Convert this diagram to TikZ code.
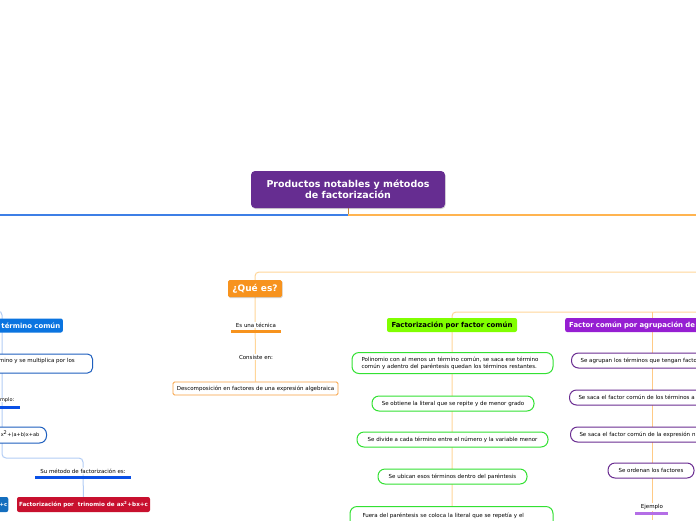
\documentclass[tikz,border=0pt]{standalone}
\usepackage{fontspec}
\setmainfont{DejaVu Sans}
\usetikzlibrary{shadows,backgrounds}
\definecolor{rootpurple}{RGB}{102,45,145}
\definecolor{mainblue}{RGB}{61,127,230}
\definecolor{mainorange}{RGB}{255,180,80}
\definecolor{lorange}{RGB}{255,214,153}
\definecolor{qorange}{RGB}{247,147,30}
\definecolor{borange}{RGB}{247,160,64}
\definecolor{ghead}{RGB}{128,255,0}
\definecolor{gborder}{RGB}{51,225,51}
\definecolor{phead}{RGB}{150,30,210}
\definecolor{pborder}{RGB}{106,45,145}
\definecolor{pline}{RGB}{180,110,230}
\definecolor{bhead}{RGB}{10,116,224}
\definecolor{bborder}{RGB}{30,95,190}
\definecolor{bline}{RGB}{10,80,230}
\definecolor{lblue}{RGB}{179,205,245}
\definecolor{redbox}{RGB}{200,16,46}
\definecolor{dblue}{RGB}{20,110,190}
\definecolor{stemc}{RGB}{200,138,58}
\newcommand{\tinyf}{\fontsize{5.5}{7}\selectfont}
\newcommand{\smallerf}{\fontsize{5}{6}\selectfont}
\newcommand{\headf}{\fontsize{6.9}{8}\selectfont\bfseries}
\tikzset{
  x=1pt, y=-1pt,
  rootbox/.style={fill=rootpurple, rounded corners=4pt, text=white, font=\fontsize{9.5}{11}\selectfont\bfseries, align=center, inner sep=0pt, minimum width=194pt, minimum height=37pt, drop shadow={shadow xshift=0.6pt, shadow yshift=-1pt, opacity=0.35}},
  qbox/.style={fill=qorange, rounded corners=1.5pt, text=white, font=\fontsize{9}{10}\selectfont\bfseries, inner sep=0pt, minimum width=54pt, minimum height=17pt, drop shadow={shadow xshift=0.6pt, shadow yshift=-1pt, opacity=0.35}},
  headbox/.style={rounded corners=2pt, font=\headf, inner sep=0pt, minimum height=14pt},
  plain/.style={font=\tinyf, inner sep=1pt, fill=white},
  obox/.style={draw=borange, line width=0.8pt, fill=white, rounded corners=1.5pt, font=\tinyf, inner sep=0pt, minimum width=165pt, minimum height=13pt},
  gbox/.style={draw=gborder, line width=1pt, fill=white, rounded corners=7pt, font=\tinyf, inner sep=0pt, minimum height=15pt},
  pbox/.style={draw=pborder, line width=1pt, fill=white, rounded corners=7pt, font=\tinyf, inner sep=0pt, minimum height=15pt},
  bbox/.style={draw=bborder, line width=1pt, fill=white, rounded corners=5pt, font=\tinyf, inner sep=0pt},
  conn/.style={line width=1pt, rounded corners=4pt},
  uline/.style={line width=2.5pt},
}
\begin{document}
\begin{tikzpicture}
\useasboundingbox (0,0) rectangle (696,520);
\clip (0,0) rectangle (696,520);

% root
\node[rootbox] (root) at (348,189.5) {Productos notables y métodos\\de factorización};
\coordinate (split) at (348,215);

% ---------- Qué es ----------
\coordinate (oright) at (696,272);
\node[qbox] (qe) at (255,288.5) {¿Qué es?};
\node[plain] (tec) at (256,325) {Es una técnica};
\coordinate (tecA) at (231,331.5);
\coordinate (tecB) at (281,331.5);
\node[plain] (cons) at (256,357) {Consiste en:};
\node[obox] (desc) at (255.5,388.5) {Descomposición en factores de una expresión algebraica};
\draw[qorange, uline] (tecA) -- (tecB);

% ---------- Green column ----------
\coordinate (gright) at (696,312);
\coordinate (gbottom) at (452,520);
\coordinate (pbottom) at (652,520);
\coordinate (ptop) at (652,312);
\node[headbox, fill=ghead, text=black, minimum width=130pt] (gh) at (452,325) {Factorización por factor común};
\node[gbox, minimum width=201pt, minimum height=21pt, align=left, text width=196pt] (g1) at (452.5,363) {\hspace*{7pt}Polinomio con al menos un término común, se saca ese término\\\hspace*{7pt}común y adentro del paréntesis quedan los términos restantes.};
\node[gbox, minimum width=162pt] (g2) at (453,403.5) {Se obtiene la literal que se repite y de menor grado};
\node[gbox, minimum width=191pt] (g3) at (452.5,439.5) {Se divide a cada término entre el número y la variable menor};
\node[gbox, minimum width=149pt] (g4) at (452.5,476.5) {Se ubican esos términos dentro del paréntesis};
\node[gbox, minimum width=203pt, minimum height=32pt, anchor=north, align=left, text width=196pt, text depth=14pt] (g5) at (451.5,506) {\hspace*{9pt}Fuera del paréntesis se coloca la literal que se repetía y el};

% ---------- Purple column ----------
\node[headbox, fill=phead, text=white, anchor=west, minimum width=170pt, align=left, text width=166pt] (ph) at (565,325) {\hspace*{2pt}Factor común por agrupación de};
\node[pbox, anchor=west, minimum width=160pt, align=left, text width=150pt] (p1) at (571,360.5) {\hspace*{4pt}Se agrupan los términos que tengan facto};
\node[pbox, anchor=west, minimum width=160pt, align=left, text width=150pt] (p2) at (569,397.5) {\hspace*{4pt}Se saca el factor común de los términos a};
\node[pbox, anchor=west, minimum width=160pt, align=left, text width=150pt] (p3) at (570,434.5) {\hspace*{4pt}Se saca el factor común de la expresión n};
\node[pbox, minimum width=86pt] (p4) at (651,470.5) {Se ordenan los factores};
\node[plain] (pej) at (652,507) {Ejemplo};
\coordinate (pejA) at (635,513.5);
\coordinate (pejB) at (668,513.5);
\draw[pline, uline] (pejA) -- (pejB);

% ---------- Blue column (left) ----------
\coordinate (bl0) at (-10,311);
\coordinate (bturn) at (2,458);
\coordinate (bsu) at (83,458);
\node[headbox, fill=bhead, anchor=east, minimum width=90pt] (bh) at (63,325.5) {};
\node[font=\headf, text=white, anchor=east, inner sep=0pt] (bht) at (60.5,325.5) {término común};
\node[bbox, anchor=east, minimum width=200pt, minimum height=19pt] (b1) at (93,363.5) {};
\node[font=\tinyf, anchor=east, inner sep=0pt] (b1t) at (75,361) {mino y se multiplica por los};
\node[font=\smallerf, fill=white, anchor=east, inner sep=0pt] (bej) at (14.5,400) {mplo:};
\coordinate (bejA) at (-5,407.5);
\coordinate (bejB) at (20,407.5);
\node[bbox, anchor=east, minimum width=120pt, minimum height=16pt, rounded corners=7pt] (b2) at (47,435) {};
\node[font=\smallerf, anchor=east, inner sep=0pt] (b2t) at (39.5,434) {x\textsuperscript{2}+(a+b)x+ab};
\node[plain] (su) at (83,471) {Su método de factorización es:};
\coordinate (suA) at (35,477.5);
\coordinate (suB) at (131,477.5);
\node[headbox, fill=redbox, text=white, minimum width=133pt, minimum height=15pt, font=\fontsize{5.65}{6.5}\selectfont\bfseries] (red) at (83.5,504.5) {Factorización por \ trinomio de ax\textsuperscript{2}+bx+c};
\node[headbox, fill=dblue, anchor=east, minimum width=40pt, minimum height=15pt] (blb) at (8.5,504.5) {};
\node[font=\fontsize{5.3}{6.5}\selectfont\bfseries, text=white, anchor=east, inner sep=0pt] (blbt) at (7.5,504.5) {+c};
\draw[bline, uline] (bejA) -- (bejB);
\draw[bline, uline] (suA) -- (suB);

\begin{scope}[on background layer]
\fill[white] (0,0) rectangle (696,520);
\draw[stemc, line width=1pt] (root.south) -- (split);
\draw[mainblue, line width=1.3pt] (split) -- (0,215);
\draw[mainorange, line width=1.3pt] (split) -- (696,215);
\draw[lorange, conn] (oright) -| (qe.north);
\draw[lorange, line width=1pt] (qe.south) -- (desc.north);
\draw[lorange, conn] (gright) -| (gbottom);
\draw[mainorange!70, line width=1pt] (ptop) -- (pbottom);
\draw[lblue, conn] (bl0) -- (2,311) -- (bturn) -- (bsu) -- (su.north);
\draw[lblue, line width=1pt] (su.south) -- (red.north);
\end{scope}
\end{tikzpicture}
\end{document}
